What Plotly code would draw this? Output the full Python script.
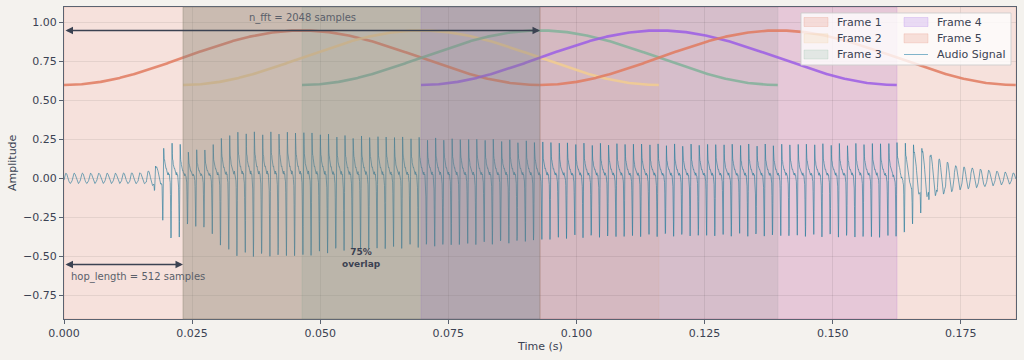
import numpy as np
import plotly.graph_objects as go

# ---- parameters / data ----
SR = 22050
N_SAMPLES = 4096
N_FFT = 2048
HOP = 512
N_FRAMES = 5
F0 = 622.0  # fundamental read from spike spacing

FRAME_LABELS = ["Frame 1", "Frame 2", "Frame 3", "Frame 4", "Frame 5"]
FRAME_COLORS = ["#E07A5F", "#F2CC8F", "#81B29A", "#9B5DE5", "#E07A5F"]
SIGNAL_LABEL = "Audio Signal"
WIN_OFFSET = 0.6
WIN_SCALE = 0.35

# envelope of the audio signal (negative peak magnitude)
ENV_T = [0.000, 0.010, 0.016, 0.018, 0.020, 0.022, 0.024, 0.028, 0.031, 0.034, 0.040,
         0.047, 0.055, 0.065, 0.075, 0.085, 0.092, 0.100, 0.120, 0.140, 0.160, 0.164,
         0.167, 0.170, 0.174, 0.180, 0.1858]
ENV_NEG = [0.05, 0.05, 0.06, 0.15, 0.40, 0.40, 0.30, 0.32, 0.45, 0.50, 0.50,
           0.50, 0.46, 0.45, 0.43, 0.42, 0.40, 0.38, 0.37, 0.37, 0.38, 0.40,
           0.37, 0.22, 0.12, 0.08, 0.05]
BRIGHT = [0.2, 0.2, 0.3, 0.6, 1.0, 1.0, 1.0, 1.0, 1.0, 1.0, 1.0,
          1.0, 1.0, 1.0, 1.0, 1.0, 1.0, 1.0, 1.0, 1.0, 1.0, 0.9,
          0.6, 0.35, 0.2, 0.2, 0.2]
POS_RATIO = 0.6
HARM_COS = [0.55, 0.60, 0.55, 0.45, 0.35, 0.25, 0.15, 0.08]
HARM_SIN = [0.35, 0.30, 0.25, 0.15, 0.10, 0.05, 0.0, 0.0]

X_TICKS = [0.0, 0.025, 0.05, 0.075, 0.1, 0.125, 0.15, 0.175]
Y_TICKS = [-0.75, -0.5, -0.25, 0.0, 0.25, 0.5, 0.75, 1.0]

# ---- build signal ----
t = np.arange(N_SAMPLES) / SR
ph = 2 * np.pi * F0 * t
shape = np.zeros_like(t)
for k, (a, b) in enumerate(zip(HARM_COS, HARM_SIN), start=1):
    shape += -a * np.cos(k * ph) + b * np.sin(k * ph)
shape = np.where(shape > 0, shape * POS_RATIO / shape.max(), shape / (-shape.min()))
env = np.interp(t, ENV_T, ENV_NEG)
br = np.interp(t, ENV_T, BRIGHT)
signal = env * (br * shape + (1 - br) * np.sin(ph) * 0.8)

TEXT = "#3B4252"
BG = "#F4F2EE"
FONT = "DejaVu Sans"
SIG_COLOR = "rgba(40,122,155,0.8)"
FRAME_ALPHA = 0.2

# plot area in pixels (for paper-coordinate helpers)
L, R, T, B = 64, 8, 7, 41
W, H = 1024, 360
PW, PH = W - L - R, H - T - B

def px(xp):
    return (xp - L) / PW

def py(yp):
    return (H - B - yp) / PH

def rgba(hexc, a):
    h = hexc.lstrip("#")
    return f"rgba({int(h[0:2],16)},{int(h[2:4],16)},{int(h[4:6],16)},{a})"

fig = go.Figure()

shapes = []
for i in range(N_FRAMES):
    s0 = i * HOP / SR
    s1 = (i * HOP + N_FFT) / SR
    shapes.append(dict(type="rect", xref="x", yref="paper", x0=s0, x1=s1, y0=0, y1=1,
                       fillcolor=rgba(FRAME_COLORS[i], FRAME_ALPHA),
                       line=dict(color=rgba(FRAME_COLORS[i], FRAME_ALPHA), width=1),
                       layer="below"))
# overlap highlight
shapes.append(dict(type="rect", xref="x", yref="paper", x0=HOP / SR, x1=N_FFT / SR, y0=0, y1=1,
                   fillcolor="rgba(128,128,128,0.36)", line=dict(color="rgba(128,128,128,0.36)", width=1),
                   layer="above"))

# audio signal
fig.add_trace(go.Scatter(x=t, y=signal, mode="lines", name=SIGNAL_LABEL,
                         line=dict(color=SIG_COLOR, width=0.8), showlegend=False))

# windows
for i in range(N_FRAMES):
    n = np.arange(N_FFT)
    w = 0.5 - 0.5 * np.cos(2 * np.pi * n / (N_FFT - 1))
    tw = (i * HOP + n) / SR
    fig.add_trace(go.Scatter(x=tw, y=WIN_OFFSET + WIN_SCALE * w, mode="lines", name=FRAME_LABELS[i],
                             line=dict(color=rgba(FRAME_COLORS[i], 0.85), width=2.6),
                             showlegend=False, hoverinfo="skip"))

annotations = [
    dict(x=N_FFT / SR, y=0.95, ax=0.0, ay=0.95, xref="x", yref="y", axref="x", ayref="y",
         text="", showarrow=True, arrowhead=2, arrowside="end+start", arrowsize=1,
         arrowwidth=1.5, arrowcolor=TEXT),
    dict(x=N_FFT / SR / 2, y=1.03, xref="x", yref="y", text="n_fft = 2048 samples",
         showarrow=False, font=dict(family=FONT, size=10, color="#5A5F6A")),
    dict(x=HOP / SR, y=-0.55, ax=0.0, ay=-0.55, xref="x", yref="y", axref="x", ayref="y",
         text="", showarrow=True, arrowhead=2, arrowside="end+start", arrowsize=1,
         arrowwidth=1.5, arrowcolor=TEXT),
    dict(x=0.001, y=-0.628, xref="x", yref="y", text="hop_length = 512 samples", xanchor="left",
         showarrow=False, font=dict(family=FONT, size=10, color="#5A5F6A")),
    dict(x=(HOP / SR + N_FFT / SR) / 2, y=-0.507, xref="x", yref="y", text="<b>75%<br>overlap</b>",
         showarrow=False, font=dict(family=FONT, size=9, color=TEXT)),
    # axis titles
    dict(x=0.5, y=py(346), xref="paper", yref="paper", text="Time (s)", showarrow=False,
         xanchor="center", yanchor="middle", font=dict(family=FONT, size=11, color=TEXT)),
    dict(x=px(12), y=0.5, xref="paper", yref="paper", text="Amplitude", showarrow=False,
         textangle=-90, xanchor="center", yanchor="middle", font=dict(family=FONT, size=11, color=TEXT)),
]

# ---- legend (two columns, drawn in the top-right corner) ----
shapes.append(dict(type="rect", xref="paper", yref="paper", x0=px(801), x1=px(1011), y0=py(65), y1=py(13),
                   fillcolor="rgba(255,255,255,0.8)", line=dict(color="rgba(205,205,205,0.9)", width=1),
                   layer="above"))
entries = [(FRAME_LABELS[i], FRAME_COLORS[i], "patch") for i in range(N_FRAMES)] + \
          [(SIGNAL_LABEL, SIG_COLOR, "line")]
col_x = [804, 904]
row_y = [22, 38.3, 54.5]
for j, (label, col, kind) in enumerate(entries):
    cx = col_x[j // 3]
    ry = row_y[j % 3]
    if kind == "patch":
        shapes.append(dict(type="rect", xref="paper", yref="paper", x0=px(cx), x1=px(cx + 24),
                           y0=py(ry + 4.5), y1=py(ry - 4.5), fillcolor=rgba(col, FRAME_ALPHA),
                           line=dict(color=rgba(col, FRAME_ALPHA), width=1), layer="above"))
    else:
        shapes.append(dict(type="line", xref="paper", yref="paper", x0=px(cx), x1=px(cx + 24),
                           y0=py(ry), y1=py(ry), line=dict(color="rgba(46,134,171,0.6)", width=1),
                           layer="above"))
    annotations.append(dict(x=px(cx + 31), y=py(ry), xref="paper", yref="paper", text=label,
                            xanchor="left", yanchor="middle", showarrow=False,
                            font=dict(family=FONT, size=11, color=TEXT)))

axis_common = dict(showline=True, mirror=True, linecolor="#5A6270", linewidth=1,
                   ticks="outside", ticklen=4, tickcolor="#5A6270", automargin=False,
                   showgrid=True, gridcolor="rgba(0,0,0,0.07)", gridwidth=1, zeroline=False,
                   tickfont=dict(family=FONT, size=11, color=TEXT))

fig.update_layout(
    width=W, height=H,
    paper_bgcolor=BG, plot_bgcolor="#FCFCFC",
    margin=dict(l=L, r=R, t=T, b=B, autoexpand=False),
    shapes=shapes, annotations=annotations,
    font=dict(family=FONT, size=11, color=TEXT),
    xaxis=dict(range=[0, N_SAMPLES / SR], tickvals=X_TICKS, tickformat=".3f", **axis_common),
    yaxis=dict(range=[-0.9, 1.1], tickvals=Y_TICKS, tickformat=".2f", **axis_common),
    showlegend=False,
)

fig.write_html("out.html", config={"displayModeBar": False},
               post_script="document.body.style.margin='0px';")
